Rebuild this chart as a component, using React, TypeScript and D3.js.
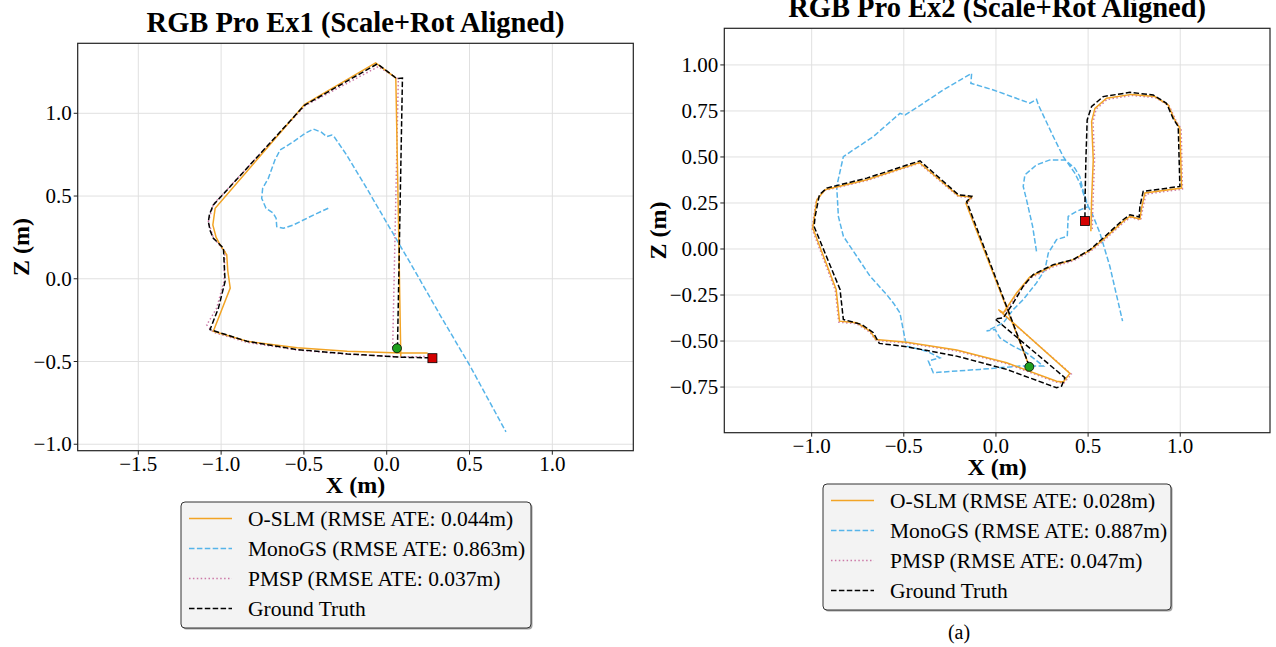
import React from 'react';
import * as d3 from 'd3';

type Pt = [number, number];

// ---- Ex1 trajectories (x, z in metres) ----
const ex1Oslm: Pt[] = [
  [0.085, -0.470], [0.070, 0.400], [0.055, 1.209], [0.050, 1.217], [-0.067, 1.305], [-0.497, 1.052],
  [-1.036, 0.426], [-1.050, 0.325], [-1.030, 0.250], [-1.006, 0.205], [-0.966, 0.145], [-0.960, 0.050],
  [-0.945, -0.056], [-1.047, -0.317], [-0.844, -0.378], [-0.541, -0.417], [-0.238, -0.438],
  [0.085, -0.448], [0.247, -0.448],
];
const ex1MonoGS: Pt[] = [
  [-0.353, 0.426], [-0.443, 0.385], [-0.564, 0.325], [-0.624, 0.305], [-0.664, 0.315], [-0.668, 0.366],
  [-0.685, 0.396], [-0.729, 0.426], [-0.755, 0.486], [-0.749, 0.547], [-0.715, 0.607], [-0.675, 0.718],
  [-0.644, 0.778], [-0.564, 0.828], [-0.493, 0.879], [-0.443, 0.905], [-0.393, 0.885], [-0.362, 0.859],
  [-0.332, 0.869], [-0.318, 0.859], [-0.242, 0.748], [-0.121, 0.547], [0.020, 0.305], [0.161, 0.063],
  [0.322, -0.219], [0.505, -0.530], [0.720, -0.925],
];
const ex1Pmsp: Pt[] = [
  [0.036, -0.416], [0.070, 1.207], [-0.051, 1.282], [-0.493, 1.046], [-1.047, 0.450], [-1.077, 0.345],
  [-1.047, 0.248], [-0.977, 0.164], [-0.983, -0.017], [-1.027, -0.178], [-1.087, -0.279], [-1.047, -0.323],
  [-0.845, -0.384], [-0.543, -0.430], [-0.242, -0.456], [0.080, -0.472], [0.242, -0.470],
];
const ex1Gt: Pt[] = [
  [0.065, -0.417], [0.095, 1.213], [0.060, 1.210], [-0.056, 1.299], [-0.497, 1.048], [-1.047, 0.446],
  [-1.070, 0.390], [-1.077, 0.345], [-1.066, 0.290], [-1.047, 0.245], [-0.986, 0.185], [-0.976, -0.016],
  [-1.016, -0.177], [-1.067, -0.307], [-0.844, -0.378], [-0.541, -0.428], [-0.238, -0.454],
  [0.085, -0.474], [0.267, -0.478],
];
const ex1Start: Pt = [0.062, -0.420];
const ex1End: Pt = [0.276, -0.480];

// ---- Ex2 trajectories ----
const ex2Oslm: Pt[] = [
  [0.184, -0.645], [-0.163, 0.249], [-0.132, 0.282], [-0.204, 0.289], [-0.416, 0.470], [-0.701, 0.376],
  [-0.927, 0.322], [-0.972, 0.267], [-0.994, 0.114], [-0.867, -0.220], [-0.849, -0.392], [-0.755, -0.401],
  [-0.683, -0.446], [-0.651, -0.492], [-0.484, -0.506], [-0.213, -0.549], [0.058, -0.618], [0.329, -0.718],
  [0.365, -0.723], [0.401, -0.676], [0.013, -0.329], [0.040, -0.347], [0.112, -0.239], [0.184, -0.152],
  [0.311, -0.090], [0.419, -0.058], [0.510, -0.007], [0.582, 0.051], [0.690, 0.150], [0.727, 0.177],
  [0.781, 0.163], [0.790, 0.222], [0.808, 0.304], [1.007, 0.331], [0.998, 0.656], [0.970, 0.701],
  [0.934, 0.783], [0.862, 0.828], [0.736, 0.840], [0.600, 0.819], [0.537, 0.764], [0.519, 0.692],
  [0.528, 0.484], [0.519, 0.267], [0.515, 0.096],
];
const ex2MonoGS: Pt[] = [
  [0.220, -0.013], [0.199, 0.123], [0.166, 0.267], [0.148, 0.340], [0.157, 0.403], [0.220, 0.457],
  [0.293, 0.484], [0.374, 0.484], [0.428, 0.439], [0.455, 0.394], [0.474, 0.313], [0.501, 0.231],
  [0.437, 0.204], [0.392, 0.177], [0.387, 0.069], [0.329, 0.051], [0.284, -0.022], [0.266, -0.112],
  [0.220, -0.184], [0.148, -0.275], [0.094, -0.329], [0.040, -0.401], [-0.051, -0.446], [-0.005, -0.437],
  [0.022, -0.483], [0.094, -0.528], [0.166, -0.564], [0.257, -0.636], [0.130, -0.636], [-0.087, -0.654],
  [-0.340, -0.672], [-0.367, -0.609], [-0.304, -0.591], [-0.376, -0.555], [-0.484, -0.528], [-0.493, -0.492],
  [-0.521, -0.347], [-0.557, -0.293], [-0.593, -0.248], [-0.683, -0.148], [-0.755, -0.040], [-0.828, 0.069],
  [-0.855, 0.177], [-0.864, 0.340], [-0.828, 0.502], [-0.665, 0.611], [-0.521, 0.737], [-0.493, 0.728],
  [-0.394, 0.792], [-0.286, 0.864], [-0.132, 0.954], [-0.136, 0.900], [-0.014, 0.864], [0.184, 0.792],
  [0.220, 0.813], [0.230, 0.783], [0.311, 0.611], [0.365, 0.502], [0.428, 0.412], [0.455, 0.358],
  [0.492, 0.249], [0.528, 0.177], [0.564, 0.087], [0.618, -0.094], [0.687, -0.392],
];
const ex2Pmsp: Pt[] = [
  [0.186, -0.650], [-0.160, 0.245], [-0.130, 0.279], [-0.204, 0.285], [-0.418, 0.466], [-0.703, 0.371],
  [-0.930, 0.318], [-0.976, 0.262], [-0.998, 0.110], [-0.872, -0.224], [-0.853, -0.397], [-0.757, -0.406],
  [-0.684, -0.451], [-0.651, -0.497], [-0.484, -0.511], [-0.213, -0.554], [0.058, -0.623], [0.329, -0.724],
  [0.368, -0.729], [0.409, -0.680], [0.016, -0.334], [0.043, -0.352], [0.114, -0.245], [0.186, -0.158],
  [0.313, -0.096], [0.421, -0.064], [0.512, -0.013], [0.585, 0.045], [0.693, 0.144], [0.730, 0.171],
  [0.785, 0.157], [0.796, 0.216], [0.814, 0.298], [1.012, 0.325], [1.005, 0.652], [0.977, 0.697],
  [0.940, 0.778], [0.866, 0.822], [0.738, 0.834], [0.604, 0.813], [0.543, 0.759], [0.527, 0.688],
  [0.535, 0.484], [0.527, 0.267], [0.522, 0.100],
];
const ex2Gt: Pt[] = [
  [0.181, -0.636], [-0.159, 0.258], [-0.132, 0.286], [-0.204, 0.295], [-0.412, 0.479], [-0.701, 0.385],
  [-0.918, 0.331], [-0.958, 0.295], [-0.981, 0.177], [-0.987, 0.123], [-0.846, -0.220], [-0.828, -0.383],
  [-0.728, -0.410], [-0.665, -0.455], [-0.633, -0.513], [-0.484, -0.531], [-0.213, -0.582], [0.058, -0.654],
  [0.329, -0.754], [0.356, -0.745], [0.374, -0.699], [-0.005, -0.380], [0.040, -0.374], [0.094, -0.293],
  [0.148, -0.202], [0.202, -0.139], [0.311, -0.085], [0.419, -0.058], [0.510, -0.004], [0.582, 0.060],
  [0.690, 0.159], [0.727, 0.186], [0.777, 0.174], [0.781, 0.231], [0.799, 0.313], [0.998, 0.340],
  [0.989, 0.665], [0.961, 0.710], [0.925, 0.792], [0.853, 0.837], [0.727, 0.851], [0.582, 0.828],
  [0.519, 0.774], [0.495, 0.701], [0.488, 0.484], [0.483, 0.249], [0.483, 0.155],
];
const ex2Start: Pt = [0.181, -0.640];
const ex2End: Pt = [0.483, 0.152];

const ex1XTicks = [-1.5, -1.0, -0.5, 0.0, 0.5, 1.0];
const ex1YTicks = [-1.0, -0.5, 0.0, 0.5, 1.0];
const ex2XTicks = [-1.0, -0.5, 0.0, 0.5, 1.0];
const ex2YTicks = [-0.75, -0.5, -0.25, 0.0, 0.25, 0.5, 0.75, 1.0];

const seriesNames = ['O-SLM', 'MonoGS', 'PMSP', 'Ground Truth'];
const ex1Rmse = [0.044, 0.863, 0.037];
const ex2Rmse = [0.028, 0.887, 0.047];

const FONT = '"Liberation Serif", "Times New Roman", serif';
const C_OSLM = '#F2A425';
const C_MONO = '#56B4E9';
const C_PMSP = '#CC79A7';

const fmt = (v: number, d: number) => {
  const s = Math.abs(v).toFixed(d);
  return v < 0 ? '\u2212' + s : s;
};

type PanelProps = {
  title: string;
  titleY: number;
  xDomain: [number, number];
  yDomain: [number, number];
  box: { l: number; r: number; t: number; b: number };
  xTicks: number[];
  yTicks: number[];
  yDigits: number;
  series: { oslm: Pt[]; mono: Pt[]; pmsp: Pt[]; gt: Pt[] };
  start: Pt;
  end: Pt;
  rmse: number[];
  legend: { x: number; y: number; w: number; h: number };
  xLabelY: number;
  yLabelX: number;
};

const Panel = (p: PanelProps) => {
  const { box } = p;
  const x = d3.scaleLinear().domain(p.xDomain).range([box.l, box.r]);
  const y = d3.scaleLinear().domain(p.yDomain).range([box.b, box.t]);
  const line = d3.line<Pt>().x(d => x(d[0])).y(d => y(d[1]));
  const cx = (box.l + box.r) / 2;
  const cy = (box.t + box.b) / 2;
  const clipId = 'clip' + p.title.replace(/[^a-zA-Z0-9]/g, '');

  const leg = p.legend;
  const rowH = 30;
  const styles = [
    { stroke: C_OSLM, dash: undefined as string | undefined },
    { stroke: C_MONO, dash: '5.5,2.4' },
    { stroke: C_PMSP, dash: '1.5,2.4' },
    { stroke: '#000', dash: '5.5,2.4' },
  ];

  return (
    <g>
      <text x={cx} y={p.titleY} textAnchor="middle" fontFamily={FONT} fontWeight="bold" fontSize={28.5}>
        {p.title}
      </text>
      <clipPath id={clipId}>
        <rect x={box.l} y={box.t} width={box.r - box.l} height={box.b - box.t} />
      </clipPath>
      {p.xTicks.map(t => (
        <line key={'gx' + t} x1={x(t)} x2={x(t)} y1={box.t} y2={box.b} stroke="#e0e0e0" strokeWidth={1} />
      ))}
      {p.yTicks.map(t => (
        <line key={'gy' + t} x1={box.l} x2={box.r} y1={y(t)} y2={y(t)} stroke="#e0e0e0" strokeWidth={1} />
      ))}
      <g clipPath={`url(#${clipId})`} fill="none" strokeWidth={1.5}>
        <path d={line(p.series.mono) || ''} stroke={C_MONO} strokeDasharray="5.5,2.4" />
        <path d={line(p.series.pmsp) || ''} stroke={C_PMSP} strokeDasharray="1.5,2.4" />
        <path d={line(p.series.oslm) || ''} stroke={C_OSLM} />
        <path d={line(p.series.gt) || ''} stroke="#000" strokeDasharray="5.5,2.4" />
      </g>
      <circle cx={x(p.start[0])} cy={y(p.start[1])} r={4.5} fill="#1fa01f" stroke="#000" strokeWidth={0.8} />
      <rect x={x(p.end[0]) - 4.5} y={y(p.end[1]) - 4.5} width={9} height={9} fill="#d40000" stroke="#000" strokeWidth={0.8} />
      <rect x={box.l} y={box.t} width={box.r - box.l} height={box.b - box.t} fill="none" stroke="#222" strokeWidth={1.2} />
      {p.xTicks.map(t => (
        <g key={'tx' + t}>
          <line x1={x(t)} x2={x(t)} y1={box.b} y2={box.b + 4} stroke="#222" />
          <text x={x(t)} y={box.b + 20} textAnchor="middle" fontFamily={FONT} fontSize={21}>
            {fmt(t, 1)}
          </text>
        </g>
      ))}
      {p.yTicks.map(t => (
        <g key={'ty' + t}>
          <line x1={box.l - 4} x2={box.l} y1={y(t)} y2={y(t)} stroke="#222" />
          <text x={box.l - 6} y={y(t) + 7} textAnchor="end" fontFamily={FONT} fontSize={21}>
            {fmt(t, p.yDigits)}
          </text>
        </g>
      ))}
      <text x={cx} y={p.xLabelY} textAnchor="middle" fontFamily={FONT} fontWeight="bold" fontSize={24}>
        X (m)
      </text>
      <text
        transform={`translate(${p.yLabelX},${cy}) rotate(-90)`}
        textAnchor="middle"
        fontFamily={FONT}
        fontWeight="bold"
        fontSize={24}
      >
        Z (m)
      </text>
      <rect x={leg.x + 1.5} y={leg.y + 1.5} width={leg.w} height={leg.h} rx={4} fill="#666" opacity={0.6} />
      <rect x={leg.x} y={leg.y} width={leg.w} height={leg.h} rx={4} fill="#f3f3f3" stroke="#333" strokeWidth={1} />
      {seriesNames.map((name, i) => {
        const ly = leg.y + 16.5 + i * rowH;
        const label = i < 3 ? `${name} (RMSE ATE: ${p.rmse[i].toFixed(3)}m)` : name;
        return (
          <g key={name}>
            <line x1={leg.x + 8} x2={leg.x + 51} y1={ly} y2={ly} stroke={styles[i].stroke} strokeWidth={1.5} strokeDasharray={styles[i].dash} />
            <text x={leg.x + 67} y={ly + 7.5} fontFamily={FONT} fontSize={21.5}>
              {label}
            </text>
          </g>
        );
      })}
    </g>
  );
};

const App = () => {
  return (
    <svg width={1276} height={647} style={{ position: 'absolute', left: 0, top: 0, background: '#fff' }}>
      <Panel
        title="RGB Pro Ex1 (Scale+Rot Aligned)"
        titleY={32}
        xDomain={[-1.866, 1.489]}
        yDomain={[-1.039, 1.423]}
        box={{ l: 77.7, r: 633.3, t: 43.3, b: 450.7 }}
        xTicks={ex1XTicks}
        yTicks={ex1YTicks}
        yDigits={1}
        series={{ oslm: ex1Oslm, mono: ex1MonoGS, pmsp: ex1Pmsp, gt: ex1Gt }}
        start={ex1Start}
        end={ex1End}
        rmse={ex1Rmse}
        legend={{ x: 181, y: 502, w: 350, h: 126 }}
        xLabelY={493}
        yLabelX={29}
      />
      <Panel
        title="RGB Pro Ex2 (Scale+Rot Aligned)"
        titleY={17}
        xDomain={[-1.474, 1.487]}
        yDomain={[-0.998, 1.199]}
        box={{ l: 724.3, r: 1270, t: 28.3, b: 432.7 }}
        xTicks={ex2XTicks}
        yTicks={ex2YTicks}
        yDigits={2}
        series={{ oslm: ex2Oslm, mono: ex2MonoGS, pmsp: ex2Pmsp, gt: ex2Gt }}
        start={ex2Start}
        end={ex2End}
        rmse={ex2Rmse}
        legend={{ x: 823, y: 484, w: 348, h: 126 }}
        xLabelY={475}
        yLabelX={666}
      />
      <text x={959} y={639} textAnchor="middle" fontFamily={FONT} fontSize={20}>
        (a)
      </text>
    </svg>
  );
};

export default App;
